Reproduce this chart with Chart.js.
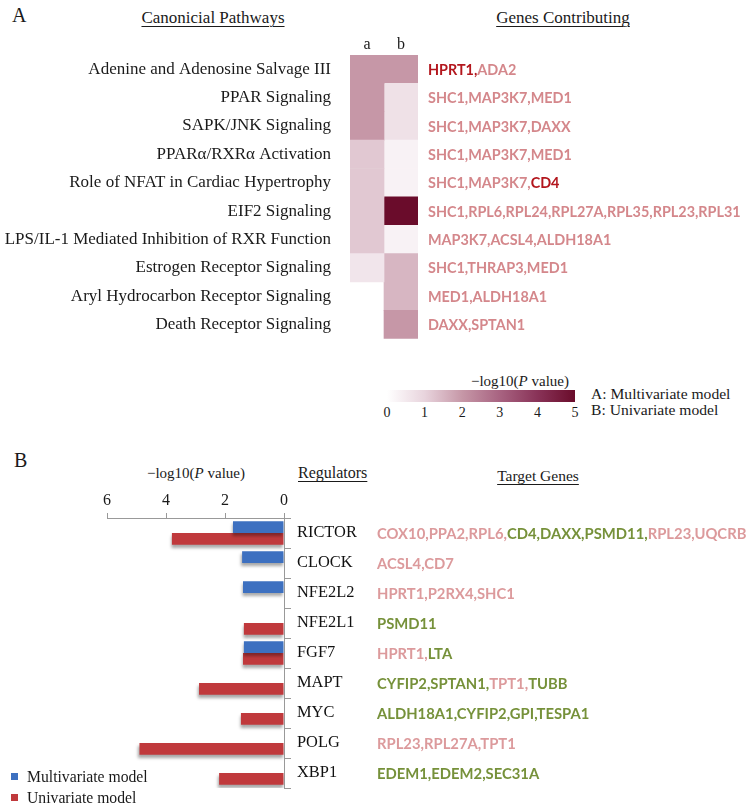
<!DOCTYPE html>
<html>
<head>
<meta charset="utf-8">
<script src="https://cdn.jsdelivr.net/npm/chart.js@4.4.0/dist/chart.umd.min.js"></script>
<style>
  body { margin: 0; background: #fff; width: 754px; height: 811px; position: relative; overflow: hidden;
         font-family: "Liberation Serif", serif; color: #1a1a1a; }
  .t { position: absolute; white-space: nowrap; line-height: 20px; height: 20px; }
  .u { text-decoration: underline; text-underline-offset: 3px; text-decoration-thickness: 1px; }
  .c { transform: translateX(-50%); }
  .r { transform: translateX(-100%); }
  canvas { position: absolute; left: 0; }
  .sq { position: absolute; width: 7px; height: 7px; }
</style>
</head>
<body>

<!-- ═══ Panel A headings ═══ -->
<div class="t" style="left:12px;top:5px;font-size:20px">A</div>
<div class="t u c" style="left:213px;top:8px;font-size:17px">Canonicial Pathways</div>
<div class="t u c" style="left:563px;top:8px;font-size:17px">Genes Contributing</div>

<canvas id="heat" width="754" height="360" style="top:0"></canvas>

<!-- colour bar -->
<div class="t r" style="left:569px;top:371px;font-size:15px">&minus;log10(<i>P</i> value)</div>
<div id="cbar" style="position:absolute;left:387px;top:390px;width:188px;height:12px"></div>
<div id="cbarTicks"></div>
<div class="t" style="left:591px;top:384px;font-size:15.6px">A: Multivariate model</div>
<div class="t" style="left:591px;top:400px;font-size:15.6px">B: Univariate model</div>

<!-- ═══ Panel B headings ═══ -->
<div class="t" style="left:14px;top:450px;font-size:20px">B</div>
<div class="t c" style="left:196px;top:463px;font-size:15px">&minus;log10(<i>P</i> value)</div>
<div class="t u" style="left:298px;top:463px;font-size:16px">Regulators</div>
<div class="t u c" style="left:538px;top:466px;font-size:15.5px">Target Genes</div>

<canvas id="bars" width="754" height="381" style="top:430px"></canvas>

<!-- legend -->
<div class="sq" id="lgBlue" style="left:11px;top:773px"></div>
<div class="t" style="left:27px;top:767px;font-size:15.7px">Multivariate model</div>
<div class="sq" id="lgRed" style="left:11px;top:794px"></div>
<div class="t" style="left:27px;top:788px;font-size:15.7px">Univariate model</div>

<script>
// ═══ DATA — panel A (canonical pathways heatmap) ═══
const pathways = [
  "Adenine and Adenosine Salvage III",
  "PPAR Signaling",
  "SAPK/JNK Signaling",
  "PPARα/RXRα Activation",
  "Role of NFAT in Cardiac Hypertrophy",
  "EIF2 Signaling",
  "LPS/IL-1 Mediated Inhibition of RXR Function",
  "Estrogen Receptor Signaling",
  "Aryl Hydrocarbon Receptor Signaling",
  "Death Receptor Signaling"
];
const heatA = [2.0, 2.0, 2.0, 1.2, 1.2, 1.2, 1.2, 0.6, null, null];   // multivariate
const heatB = [2.0, 0.7, 0.7, 0.3, 0.3, 5.0, 0.3, 1.5, 1.5, 2.0];    // univariate
const heatColumns = ["a", "b"];
const pathwayGenes = [
  [["HPRT1,", "dark"], ["ADA2", "pink"]],
  [["SHC1,MAP3K7,MED1", "pink"]],
  [["SHC1,MAP3K7,DAXX", "pink"]],
  [["SHC1,MAP3K7,MED1", "pink"]],
  [["SHC1,MAP3K7,", "pink"], ["CD4", "dark"]],
  [["SHC1,RPL6,RPL24,RPL27A,RPL35,RPL23,RPL31", "pink"]],
  [["MAP3K7,ACSL4,ALDH18A1", "pink"]],
  [["SHC1,THRAP3,MED1", "pink"]],
  [["MED1,ALDH18A1", "pink"]],
  [["DAXX,SPTAN1", "pink"]]
];
const colorbarTicks = [0, 1, 2, 3, 4, 5];

// ═══ DATA — panel B (upstream regulators) ═══
const regulators = ["RICTOR", "CLOCK", "NFE2L2", "NFE2L1", "FGF7", "MAPT", "MYC", "POLG", "XBP1"];
const multiVals  = [1.73, 1.42, 1.39, null, 1.36, null, null, null, null];
const uniVals    = [3.80, null, null, 1.36, 1.39, 2.88, 1.46, 4.90, 2.20];
const targetGenes = [
  [["COX10,PPA2,RPL6,", "lpink"], ["CD4,DAXX,PSMD11,", "green"], ["RPL23,UQCRB", "lpink"]],
  [["ACSL4,CD7", "lpink"]],
  [["HPRT1,P2RX4,SHC1", "lpink"]],
  [["PSMD11", "green"]],
  [["HPRT1,", "lpink"], ["LTA", "green"]],
  [["CYFIP2,SPTAN1,", "green"], ["TPT1,", "lpink"], ["TUBB", "green"]],
  [["ALDH18A1,CYFIP2,GPI,TESPA1", "green"]],
  [["RPL23,RPL27A,TPT1", "lpink"]],
  [["EDEM1,EDEM2,SEC31A", "green"]]
];

// ═══ STYLE ═══
const SERIF = "'Liberation Serif', serif";
const SANS = "Lato, 'Open Sans', sans-serif";
const BLUE = "#3d70c0";
const RED = "#c0393c";
const GENE_COLORS = { pink: "#d4878b", dark: "#b3161d", lpink: "#dc9a9c", green: "#76913a" };
const cmapStops  = [0, 1, 2, 3, 4, 5];
const cmapColors = ["#ffffff", "#e8d4dd", "#c697a7", "#a86381", "#893358", "#6a0c2b"];

function hexRgb(h) { return [1, 3, 5].map(i => parseInt(h.slice(i, i + 2), 16)); }
function cmap(v) {
  if (v == null) return "rgba(0,0,0,0)";
  for (let i = 0; i < cmapStops.length - 1; i++) {
    if (v <= cmapStops[i + 1]) {
      const f = (v - cmapStops[i]) / (cmapStops[i + 1] - cmapStops[i]);
      const a = hexRgb(cmapColors[i]), b = hexRgb(cmapColors[i + 1]);
      const c = a.map((x, k) => Math.round(x + (b[k] - x) * f));
      return `rgb(${c[0]},${c[1]},${c[2]})`;
    }
  }
  return cmapColors[cmapColors.length - 1];
}

function drawRich(ctx, x, y, segs, font) {
  ctx.save();
  ctx.font = font;
  ctx.textBaseline = "middle";
  ctx.textAlign = "left";
  segs.forEach(([txt, key]) => {
    ctx.fillStyle = GENE_COLORS[key];
    ctx.fillText(txt, x, y);
    x += ctx.measureText(txt).width;
  });
  ctx.restore();
}

// colour bar + ticks (HTML)
document.getElementById("cbar").style.background =
  "linear-gradient(to right," + cmapColors.map((c, i) => `${c} ${cmapStops[i] / 5 * 100}%`).join(",") + ")";
document.getElementById("cbarTicks").innerHTML = colorbarTicks.map(v =>
  `<div class="t c" style="left:${387 + v / 5 * 188}px;top:403px;font-size:14px">${v}</div>`).join("");
document.getElementById("lgBlue").style.background = BLUE;
document.getElementById("lgRed").style.background = RED;

// ═══ HEATMAP — floating bars in two columns ═══
const genesPluginA = {
  id: "genesA",
  afterDraw(chart) {
    const ys = chart.scales.y;
    pathwayGenes.forEach((segs, i) =>
      drawRich(chart.ctx, chart.chartArea.right + 10, ys.getPixelForValue(i) + 1, segs, `bold 14.4px ${SANS}`));
  }
};

new Chart(document.getElementById("heat"), {
  type: "bar",
  data: {
    labels: pathways,
    datasets: [
      { label: heatColumns[0], data: heatA.map(v => v == null ? null : [0, 1]), backgroundColor: heatA.map(cmap) },
      { label: heatColumns[1], data: heatB.map(v => v == null ? null : [1, 2]), backgroundColor: heatB.map(cmap) }
    ]
  },
  options: {
    indexAxis: "y",
    responsive: false,
    animation: false,
    events: [],
    datasets: { bar: { grouped: false, barPercentage: 1, categoryPercentage: 1, borderWidth: 0 } },
    layout: { padding: { left: 0, top: 0, right: 336, bottom: 13 } },
    plugins: { legend: { display: false }, tooltip: { enabled: false } },
    scales: {
      x: {
        type: "linear", position: "top", min: 0, max: 2,
        grid: { display: false }, border: { display: false },
        ticks: {
          stepSize: 0.5, autoSkip: false, padding: -7, color: "#1a1a1a",
          font: { family: SERIF, size: 16 },
          callback: v => v === 0.5 ? heatColumns[0] : v === 1.5 ? heatColumns[1] : ""
        },
        afterFit: s => { s.height = 55; }
      },
      y: {
        grid: { display: false }, border: { display: false },
        ticks: { autoSkip: false, padding: 11, color: "#1a1a1a", font: { family: SERIF, size: 17 } },
        afterFit: s => { s.width = 350; }
      }
    }
  },
  plugins: [genesPluginA]
});

// ═══ HORIZONTAL BARS — regulators ═══
const shadowPlugin = {
  id: "barShadow",
  beforeDatasetsDraw(chart) {
    const c = chart.ctx;
    c.save();
    c.shadowColor = "rgba(0,0,0,0.35)";
    c.shadowBlur = 3;
    c.shadowOffsetX = -1;
    c.shadowOffsetY = 3;
  },
  afterDatasetsDraw(chart) { chart.ctx.restore(); }
};
const genesPluginB = {
  id: "genesB",
  afterDraw(chart) {
    const ys = chart.scales.y;
    targetGenes.forEach((segs, i) =>
      drawRich(chart.ctx, 377, ys.getPixelForValue(i) + 1, segs, `bold 14.8px ${SANS}`));
  }
};

new Chart(document.getElementById("bars"), {
  type: "bar",
  data: {
    labels: regulators,
    datasets: [
      { label: "Multivariate model", data: multiVals, backgroundColor: BLUE },
      { label: "Univariate model", data: uniVals, backgroundColor: RED }
    ]
  },
  options: {
    indexAxis: "y",
    responsive: false,
    animation: false,
    events: [],
    datasets: { bar: { barPercentage: 1, categoryPercentage: 0.78, borderWidth: 0 } },
    layout: { padding: { left: 107, top: 0, right: 0, bottom: 23 } },
    plugins: { legend: { display: false }, tooltip: { enabled: false } },
    scales: {
      x: {
        position: "top", reverse: true, min: 0, max: 6,
        grid: { drawOnChartArea: false, tickLength: 5, color: "#999" },
        border: { color: "#999" },
        ticks: { stepSize: 2, padding: 3, color: "#1a1a1a", font: { family: SERIF, size: 16 } },
        afterFit: s => { s.height = 88; }
      },
      y: {
        position: "right",
        grid: { drawOnChartArea: false, offset: true, tickLength: 7, color: "#999" },
        border: { color: "#999" },
        ticks: { autoSkip: false, padding: 6, color: "#111", font: { family: SERIF, size: 16.4 } },
        afterFit: s => { s.width = 470; }
      }
    }
  },
  plugins: [shadowPlugin, genesPluginB]
});
</script>
</body>
</html>
